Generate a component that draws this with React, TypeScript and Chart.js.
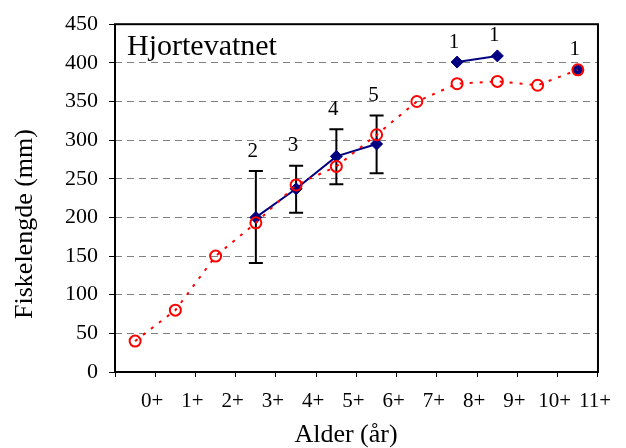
import React, { useEffect, useRef } from "react";
import { Chart, registerables } from "chart.js";

Chart.register(...registerables);

// Tick labels on the age axis (placed at category boundaries, as in the reference)
const ageLabels = ["0+", "1+", "2+", "3+", "4+", "5+", "6+", "7+", "8+", "9+", "10+", "11+"];
// Category index for each age class
const ageIndex = [0, 1, 2, 3, 4, 5, 6, 7, 8, 9, 10, 11];

// Red dotted series (back-calculated mean length, mm)
const redMean = [40, 80, 150, 193, 242, 266, 307, 350, 373, 376, 371, 391];
// Navy series (observed mean length, mm)
const blueMean: (number | null)[] = [null, null, null, 200, 237, 279, 295, null, 401, 409, null, 391];
// Error bars (min / max) for the navy series
const errLow: (number | null)[] = [null, null, null, 141, 206, 243, 257, null, null, null, null, null];
const errHigh: (number | null)[] = [null, null, null, 260, 267, 314, 332, null, null, null, null, null];
// Number of fish
const counts: (number | null)[] = [null, null, null, 2, 3, 4, 5, null, 1, 1, null, 1];

const yTicks = [0, 50, 100, 150, 200, 250, 300, 350, 400, 450];

const FONT = "'Liberation Serif', 'Times New Roman', serif";

export default function App() {
  const ref = useRef<HTMLCanvasElement | null>(null);

  useEffect(() => {
    if (!ref.current) return;
    const yMin = yTicks[0];
    const yMax = yTicks[yTicks.length - 1];

    const overlay = {
      id: "overlay",
      beforeDatasetsDraw(chart: any) {
        const { ctx, chartArea, scales } = chart;
        const xs = scales.x;
        const ys = scales.y;
        ctx.save();
        // frame
        ctx.strokeStyle = "#000";
        ctx.lineWidth = 2;
        ctx.strokeRect(chartArea.left, chartArea.top, chartArea.right - chartArea.left, chartArea.bottom - chartArea.top);
        // error bars
        ctx.lineWidth = 2;
        ageIndex.forEach((i) => {
          const lo = errLow[i];
          const hi = errHigh[i];
          if (lo == null || hi == null) return;
          const x = xs.getPixelForValue(i + 0.5);
          const y1 = ys.getPixelForValue(lo);
          const y2 = ys.getPixelForValue(hi);
          ctx.beginPath();
          ctx.moveTo(x, y1);
          ctx.lineTo(x, y2);
          ctx.moveTo(x - 7, y1);
          ctx.lineTo(x + 7, y1);
          ctx.moveTo(x - 7, y2);
          ctx.lineTo(x + 7, y2);
          ctx.stroke();
        });
        ctx.restore();
      },
      afterDatasetsDraw(chart: any) {
        const { ctx, scales } = chart;
        const xs = scales.x;
        const ys = scales.y;
        ctx.save();
        ctx.fillStyle = "#000";
        // counts
        ctx.font = `21px ${FONT}`;
        ctx.textAlign = "center";
        ctx.textBaseline = "middle";
        ageIndex.forEach((i) => {
          const n = counts[i];
          if (n == null) return;
          const top = errHigh[i] ?? blueMean[i] ?? redMean[i];
          const x = xs.getPixelForValue(i + 0.5) - 3;
          const y = ys.getPixelForValue(top as number) - 20;
          ctx.fillText(String(n), x, y);
        });
        // lake name
        ctx.font = `30px ${FONT}`;
        ctx.textAlign = "left";
        ctx.textBaseline = "alphabetic";
        ctx.fillText("Hjortevatnet", 127, 55);
        // axis titles
        ctx.font = `26px ${FONT}`;
        ctx.textAlign = "center";
        ctx.fillText("Alder (år)", 346, 442);
        ctx.translate(32, 224);
        ctx.rotate(-Math.PI / 2);
        ctx.fillText("Fiskelengde (mm)", 0, 0);
        ctx.restore();
      },
    };

    const chart = new Chart(ref.current, {
      type: "line",
      data: {
        datasets: [
          {
            label: "red",
            data: ageIndex.map((i) => ({ x: i + 0.5, y: redMean[i] })),
            borderColor: "#ff0000",
            borderWidth: 2,
            borderDash: [3, 7],
            backgroundColor: "rgba(0,0,0,0)",
            pointStyle: "circle",
            pointRadius: 5.5,
            pointBorderWidth: 2,
            pointBorderColor: "#ff0000",
            pointBackgroundColor: "rgba(0,0,0,0)",
            fill: false,
          },
          {
            label: "navy",
            data: ageIndex.map((i) => ({ x: i + 0.5, y: blueMean[i] as any })),
            borderColor: "#000080",
            borderWidth: 2,
            backgroundColor: "#000080",
            spanGaps: false,
            pointStyle: (c: any) => (c.dataIndex === ageIndex.length - 1 ? "circle" : "rectRot"),
            pointRadius: (c: any) => (c.dataIndex === ageIndex.length - 1 ? 4.5 : 6),
            pointBorderWidth: 1,
            pointBorderColor: "#000080",
            pointBackgroundColor: "#000080",
            fill: false,
          },
        ],
      },
      options: {
        responsive: false,
        animation: false,
        layout: { padding: { left: 0, top: 22, right: 26, bottom: 0 } },
        plugins: {
          legend: { display: false },
          tooltip: { enabled: false },
          title: { display: false },
        },
        scales: {
          x: {
            type: "linear",
            min: 0,
            max: ageLabels.length,
            afterFit: (s: any) => {
              s.height = 76;
            },
            afterBuildTicks: (s: any) => {
              s.ticks = Array.from({ length: ageLabels.length + 1 }, (_, k) => ({ value: k }));
            },
            ticks: {
              autoSkip: false,
              maxRotation: 0,
              padding: 12,
              labelOffset: -3,
              color: "#000",
              font: { family: FONT, size: 21 },
              callback: (v: any) => (v >= 1 ? ageLabels[v - 1] : ""),
            },
            grid: {
              drawOnChartArea: false,
              drawTicks: true,
              tickLength: 5,
              tickColor: "#000",
              tickWidth: 1,
            },
            border: { display: false },
          },
          y: {
            type: "linear",
            min: yMin,
            max: yMax,
            afterFit: (s: any) => {
              s.width = 115;
            },
            afterBuildTicks: (s: any) => {
              s.ticks = yTicks.map((v) => ({ value: v }));
            },
            ticks: {
              padding: 11,
              color: "#000",
              font: { family: FONT, size: 22 },
            },
            grid: {
              color: (c: any) =>
                c.tick && (c.tick.value === yMin || c.tick.value === yMax) ? "rgba(0,0,0,0)" : "#808080",
              lineWidth: 1,
              tickLength: 6,
              tickColor: "#000",
              tickWidth: 1,
            },
            border: { display: false, dash: [7, 5] },
          },
        },
      },
      plugins: [overlay],
    });
    return () => chart.destroy();
  }, []);

  return (
    <div style={{ position: "fixed", left: 0, top: 0, width: 626, height: 448, background: "#fff" }}>
      <canvas ref={ref} width={626} height={448} />
    </div>
  );
}
